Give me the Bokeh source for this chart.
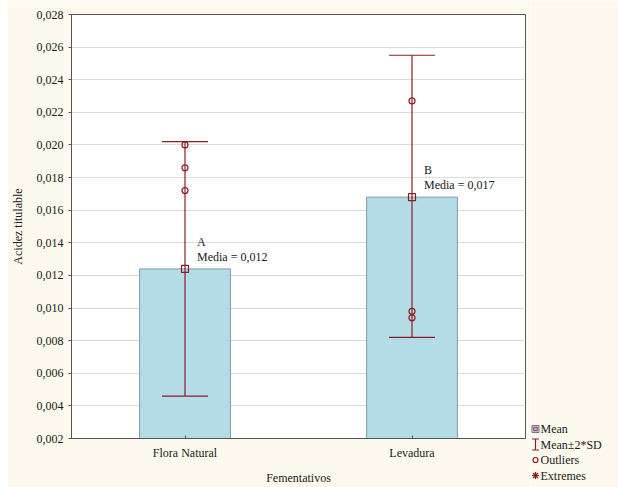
from bokeh.plotting import figure
from bokeh.layouts import row
from bokeh.models import (FactorRange, Range1d, FixedTicker, Whisker, TeeHead, ColumnDataSource,
                          CustomJSTickFormatter, Spacer)
from bokeh.core.properties import value
from bokeh.embed import file_html
from bokeh.resources import INLINE

# ---- data ----
categories = ["Flora Natural", "Levadura"]
means = [0.0124, 0.0168]
lower_2sd = [0.0046, 0.0082]
upper_2sd = [0.0202, 0.0255]
group_letters = ["A", "B"]
outlier_cat = ["Flora Natural", "Flora Natural", "Flora Natural", "Levadura", "Levadura", "Levadura"]
outlier_val = [0.0200, 0.0186, 0.0172, 0.0227, 0.0098, 0.0094]
y_ticks = [0.002, 0.004, 0.006, 0.008, 0.010, 0.012, 0.014, 0.016, 0.018, 0.020, 0.022, 0.024, 0.026, 0.028]
legend_labels = ["Mean", "Mean\u00b12*SD", "Outliers", "Extremes"]
x_title = "Fementativos"
y_title = "Acidez titulable"

RED = "#8B1E24"
BAR_FILL = "#B3DCE7"
BAR_LINE = "#7D9BAA"
CREAM = "#FDF9EE"
SERIF = "Liberation Serif"
TXT = "#1a1a1a"

p = figure(x_range=FactorRange(*categories), y_range=Range1d(y_ticks[0], y_ticks[-1]),
           width=523, height=487, output_backend="svg", toolbar_location=None,
           min_border_left=64, min_border_right=5, min_border_top=14, min_border_bottom=49)
p.background_fill_color = "white"
p.border_fill_color = CREAM
p.outline_line_color = "#555555"

bars = p.vbar(x=categories, top=means, bottom=y_ticks[0], width=0.4,
              fill_color=BAR_FILL, line_color=BAR_LINE, line_width=1)

src = ColumnDataSource(dict(x=categories, lower=lower_2sd, upper=upper_2sd))
wh = Whisker(source=src, base="x", upper="upper", lower="lower", line_color=RED, line_width=1.2,
             upper_head=TeeHead(size=46, line_color=RED, line_width=1.2),
             lower_head=TeeHead(size=46, line_color=RED, line_width=1.2), level="annotation")
p.add_layout(wh)

p.scatter(x=categories, y=means, marker="square", size=7, fill_color=None, line_color=RED, line_width=1.2)
p.scatter(x=outlier_cat, y=outlier_val, marker="circle", size=6, fill_color=None,
          line_color=RED, line_width=1.2)

lbl_src = ColumnDataSource(dict(x=categories, y=means, letter=group_letters,
                                media=["Media = " + ("%.3f" % m).replace(".", ",") for m in means]))
p.text(x="x", y="y", text="letter", source=lbl_src, x_offset=12, y_offset=-27,
       text_font=value(SERIF), text_font_size="12px", text_baseline="middle", text_align="left", text_color=TXT)
p.text(x="x", y="y", text="media", source=lbl_src, x_offset=12, y_offset=-12,
       text_font=value(SERIF), text_font_size="12px", text_baseline="middle", text_align="left", text_color=TXT)

# axes
p.yaxis.ticker = FixedTicker(ticks=y_ticks)
p.yaxis.formatter = CustomJSTickFormatter(code="return tick.toFixed(3).replace('.', ',');")
p.yaxis.major_tick_out = 3
p.yaxis.major_tick_in = 0
p.yaxis.minor_tick_line_color = None
p.yaxis.major_label_standoff = 5
p.yaxis.axis_label = y_title
p.yaxis.axis_label_standoff = 9

p.xaxis.major_tick_in = 3
p.xaxis.major_tick_out = 0
p.xaxis.major_label_standoff = 7
p.xaxis.axis_label = x_title
p.xaxis.axis_label_standoff = 8

for ax in (p.xaxis, p.yaxis):
    ax.axis_line_color = "#555555"
    ax.major_tick_line_color = "#555555"
    ax.major_label_text_font = SERIF
    ax.major_label_text_font_size = "12px"
    ax.major_label_text_color = TXT
    ax.axis_label_text_font = SERIF
    ax.axis_label_text_font_size = "12px"
    ax.axis_label_text_font_style = "normal"
    ax.axis_label_text_color = TXT

p.xgrid.grid_line_color = None
p.ygrid.grid_line_color = "#DCDCDC"

# ---- legend panel (pixel-like coordinates) ----
LW, LH = 88, 487
lg = figure(width=LW, height=LH, x_range=Range1d(0, LW), y_range=Range1d(LH, 0),
            x_axis_type=None, y_axis_type=None, output_backend="svg", toolbar_location=None,
            min_border_left=0, min_border_right=0, min_border_top=0, min_border_bottom=0)
lg.background_fill_color = CREAM
lg.border_fill_color = CREAM
lg.outline_line_color = None
lg.grid.grid_line_color = None
for fig in (p, lg):
    try:
        fig.frame_align = False
    except Exception:
        pass

gx, tx = 5, 10
row_y = [428.5 + 15.5 * i for i in range(len(legend_labels))]
# Mean symbol
lg.rect(x=[gx], y=[row_y[0]], width=7, height=7, fill_color=BAR_FILL, line_color="#5E7F90", line_width=1)
lg.scatter(x=[gx], y=[row_y[0]], marker="square", size=3.5, fill_color="#E7A6C6", line_color=RED, line_width=0.8)
# Mean +/- 2*SD symbol (I-beam)
r1 = row_y[1]
lg.segment(x0=[gx, gx - 3.5, gx - 3.5], y0=[r1 - 5.5, r1 - 5.5, r1 + 5.5],
           x1=[gx, gx + 3.5, gx + 3.5], y1=[r1 + 5.5, r1 - 5.5, r1 + 5.5], line_color=RED, line_width=1.2)
# Outliers
lg.scatter(x=[gx], y=[row_y[2]], marker="circle", size=5, fill_color=None, line_color=RED, line_width=1.2)
# Extremes
lg.scatter(x=[gx], y=[row_y[3]], marker="asterisk", size=7, line_color=RED, line_width=1.2)
lg.text(x=[tx] * len(legend_labels), y=row_y, text=legend_labels, text_font=value(SERIF),
        text_font_size="12px", text_baseline="middle", text_align="left", text_color=TXT)

layout = row(Spacer(width=7, height=LH), p, lg, spacing=0)

open("out.html", "w").write(file_html(layout, INLINE))
